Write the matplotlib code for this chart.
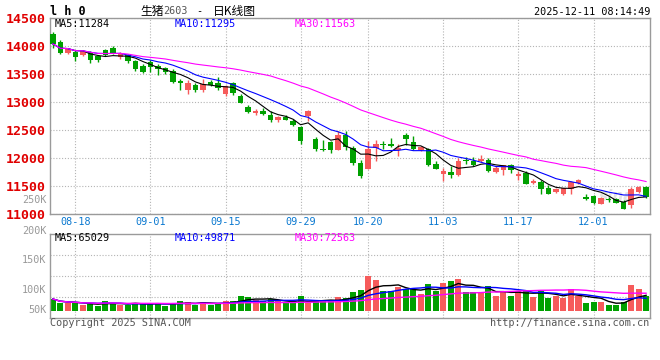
import numpy as np
import pandas as pd
import matplotlib
matplotlib.use('Agg')
import matplotlib.pyplot as plt

# daily OHLC of 生猪2603 (08-13 .. 12-10)
opens = [14204, 14067, 13880, 13890, 13832, 13890, 13814, 13920, 13961, 13802,
         13832, 13731, 13642, 13713, 13642, 13596, 13548, 13376, 13212, 13300,
         13212, 13359, 13330, 13141, 13330, 13110, 12905, 12809, 12839, 12768,
         12668, 12728, 12662, 12551, 12751, 12343, 12166, 12278, 12148, 12414,
         12184, 11912, 11794, 12178, 12249, 12249, 12148, 12402, 12285, 12148,
         12161, 11895, 11705, 11746, 11688, 11966, 11941, 11941, 11971, 11753,
         11776, 11882, 11675, 11735, 11558, 11576, 11457, 11399, 11351, 11440,
         11558, 11303, 11321, 11186, 11268, 11275, 11221, 11161, 11392, 11480]
highs = [14239, 14110, 13961, 13920, 13933, 13908, 13844, 13950, 13996, 13890,
         13862, 13755, 13667, 13743, 13667, 13624, 13578, 13401, 13389, 13330,
         13406, 13389, 13437, 13300, 13359, 13135, 12946, 12875, 12887, 12845,
         12751, 12768, 12692, 12574, 12857, 12366, 12326, 12295, 12472, 12472,
         12207, 11971, 12295, 12326, 12295, 12355, 12255, 12444, 12384, 12219,
         12178, 11941, 11824, 11852, 12001, 12012, 12012, 12060, 12001, 11852,
         11882, 11895, 11764, 11764, 11617, 11599, 11516, 11469, 11469, 11587,
         11629, 11351, 11333, 11310, 11310, 11292, 11245, 11480, 11498, 11498]
lows = [13965, 13862, 13862, 13725, 13814, 13685, 13713, 13819, 13862, 13773,
        13695, 13553, 13518, 13536, 13477, 13495, 13330, 13212, 13141, 13182,
        13182, 13282, 13212, 13105, 13123, 12976, 12809, 12768, 12768, 12650,
        12650, 12668, 12561, 12249, 12662, 12131, 12131, 12090, 12136, 12148,
        11883, 11647, 11794, 11941, 12161, 12196, 12030, 12237, 12148, 12118,
        11852, 11794, 11587, 11647, 11675, 11888, 11852, 11930, 11746, 11735,
        11693, 11735, 11599, 11528, 11540, 11363, 11351, 11381, 11339, 11351,
        11540, 11250, 11186, 11174, 11221, 11192, 11085, 11115, 11381, 11292]
closes = [14035, 13880, 13938, 13802, 13903, 13755, 13743, 13844, 13880, 13873,
          13731, 13578, 13536, 13624, 13584, 13536, 13359, 13341, 13330, 13212,
          13312, 13300, 13242, 13282, 13153, 12987, 12827, 12844, 12786, 12668,
          12738, 12680, 12579, 12295, 12839, 12166, 12136, 12148, 12414, 12189,
          11909, 11675, 12161, 12255, 12225, 12207, 12178, 12338, 12161, 12196,
          11882, 11806, 11764, 11688, 11941, 11954, 11870, 11983, 11764, 11812,
          11870, 11776, 11705, 11540, 11586, 11452, 11363, 11439, 11457, 11576,
          11604, 11262, 11204, 11292, 11257, 11204, 11097, 11440, 11480, 11303]
volumes = [48500, 30300, 30300, 30300, 23700, 30300, 20800, 40300, 33200, 23700,
           23700, 33200, 27800, 30300, 30300, 20800, 30300, 40300, 36100, 23700,
           36100, 23700, 30300, 40300, 40300, 61000, 55200, 44400, 40300, 46900,
           40300, 30300, 30300, 61000, 30300, 44400, 44400, 40300, 55200, 51000,
           77600, 85900, 145000, 127000, 81800, 81800, 99600, 88400, 88400, 69300,
           111000, 81800, 116000, 123000, 132000, 77600, 77600, 77600, 102500, 61000,
           77600, 61000, 81800, 85900, 56900, 81800, 54000, 61000, 54000, 90000,
           61000, 33200, 37400, 37400, 23700, 23700, 37400, 107000, 90000, 61000]

tick_dates = ['08-18', '09-01', '09-15', '09-29', '10-20', '11-03', '11-17', '12-01']
price_ticks = [11000, 11500, 12000, 12500, 13000, 13500, 14000, 14500]
vol_labels = ['200K', '150K', '100K', '50K']

ma_price_text = ['MA5:11284', 'MA10:11295', 'MA30:11563']
ma_vol_text = ['MA5:65029', 'MA10:49871', 'MA30:72563']

RED = '#f65b5b'
GREEN = '#00a000'
GRID = '#b4b4b4'
BORDER = '#9a9a9a'
MA_COLORS = ['black', '#0000ff', '#ff00ff']

W, H = 660, 360


def px(x, y):
    return x / W, 1 - y / H


def trading_days():
    days = pd.bdate_range('2025-08-13', '2025-12-10')
    holiday = pd.bdate_range('2025-10-01', '2025-10-08')
    days = days.difference(holiday)
    return [d.strftime('%m-%d') for d in days]


def style_axes(ax, xpos):
    for s in ax.spines.values():
        s.set_color(BORDER)
        s.set_linewidth(1.0)
    ax.set_xticks(xpos)
    ax.tick_params(length=0)
    ax.grid(True, color=GRID, linestyle=(0, (1, 1.6)), linewidth=0.8)
    ax.set_axisbelow(True)


def main():
    plt.rcParams['font.family'] = ['DejaVu Sans Mono', 'Noto Sans CJK SC']
    days = trading_days()
    x = np.arange(len(closes))
    o = np.array(opens)
    c = np.array(closes)
    up = c >= o
    colors = np.where(up, RED, GREEN)
    xpos = [days.index(d) for d in tick_dates]

    fig = plt.figure(figsize=(W / 100, H / 100), dpi=100)
    x0, x1 = (50 - 52.8) / 7.51, (650 - 52.8) / 7.51

    # price panel
    ax1 = fig.add_axes([50 / W, 1 - 214 / H, 600 / W, (214 - 17.8) / H])
    style_axes(ax1, xpos)
    ax1.vlines(x, lows, highs, colors=colors, linewidth=1.0, zorder=2)
    body = np.maximum(np.abs(c - o), 18)
    ax1.bar(x, body, bottom=np.minimum(o, c), width=0.74, color=colors,
            linewidth=0, zorder=3)
    s = pd.Series(closes)
    for n, col in zip([5, 10, 30], MA_COLORS):
        ax1.plot(x, s.rolling(n, min_periods=1).mean(), color=col,
                 linewidth=0.8, zorder=4)
    ax1.text(0.945, 0.09, 'sina', transform=ax1.transAxes, fontsize=11,
             fontstyle='italic', fontweight='bold', color='#e2e2e2',
             family='DejaVu Sans', ha='center', va='center', zorder=1)
    ax1.set_xlim(x0, x1)
    ax1.set_ylim(11000, 14500)
    ax1.set_yticks(price_ticks)
    ax1.set_yticklabels([str(t) for t in price_ticks], color='#e00000',
                        fontsize=9.5, fontweight='bold')
    ax1.tick_params(axis='y', pad=3)
    ax1.set_xticklabels(tick_dates, color='#0a78d0', fontsize=7.3)
    ax1.tick_params(axis='x', pad=2.5)

    # volume panel
    ax2 = fig.add_axes([50 / W, 1 - 318.3 / H, 600 / W, 84 / H])
    style_axes(ax2, xpos)
    ax2.bar(x, volumes, width=0.8, color=colors, linewidth=0, zorder=2)
    v = pd.Series(volumes)
    for n, col in zip([5, 10, 30], MA_COLORS):
        ax2.plot(x, v.rolling(n, min_periods=1).mean(), color=col,
                 linewidth=1.0, zorder=3)
    ax2.set_xlim(x0, x1)
    lo, hi = -31500, 317000
    ax2.set_ylim(lo, hi)
    ax2.set_yticks(np.linspace(lo, hi, 5)[1:-1])
    ax2.set_yticklabels([])
    ax2.set_xticklabels([])

    # texts
    fig.text(*px(50, 11.5), 'l h 0', fontsize=8.5, fontweight='bold',
             va='center', ha='left')
    fig.text(*px(140, 11.5), '生猪', fontsize=8.5, va='center', ha='left',
             family=['Noto Sans CJK SC', 'DejaVu Sans'])
    fig.text(*px(163, 11.5), '2603', fontsize=7.3, color='#555555',
             va='center', ha='left')
    fig.text(*px(196, 11.5), '-', fontsize=7.3, va='center', ha='left')
    fig.text(*px(213, 11.5), '日K线图', fontsize=8.5, va='center', ha='left',
             family=['Noto Sans CJK SC', 'DejaVu Sans'])
    fig.text(*px(650, 11.7), '2025-12-11 08:14:49', fontsize=7.3,
             va='center', ha='right')

    for txt, xx, col in zip(ma_price_text, [55, 175, 295], MA_COLORS):
        fig.text(*px(xx, 24), txt, fontsize=7.3, color=col, va='center')
    for txt, xx, col in zip(ma_vol_text, [55, 175, 295], MA_COLORS):
        fig.text(*px(xx, 238.3), txt, fontsize=7.3, color=col, va='center')

    fig.text(*px(46.5, 200.3), '250K', fontsize=7.3, color='#999999',
             va='center', ha='right')
    for txt, yy in zip(vol_labels, [231, 260.3, 290.3, 310.3]):
        fig.text(*px(46.5, yy), txt, fontsize=7.3, color='#999999',
                 va='center', ha='right')

    fig.text(*px(50, 323.5), 'Copyright 2025 SINA.COM', fontsize=7.3,
             color='#555555', va='center', ha='left')
    fig.text(*px(649, 323.5), 'http://finance.sina.com.cn', fontsize=7.3,
             color='#555555', va='center', ha='right')

    fig.savefig('out.png', dpi=100)


main()
